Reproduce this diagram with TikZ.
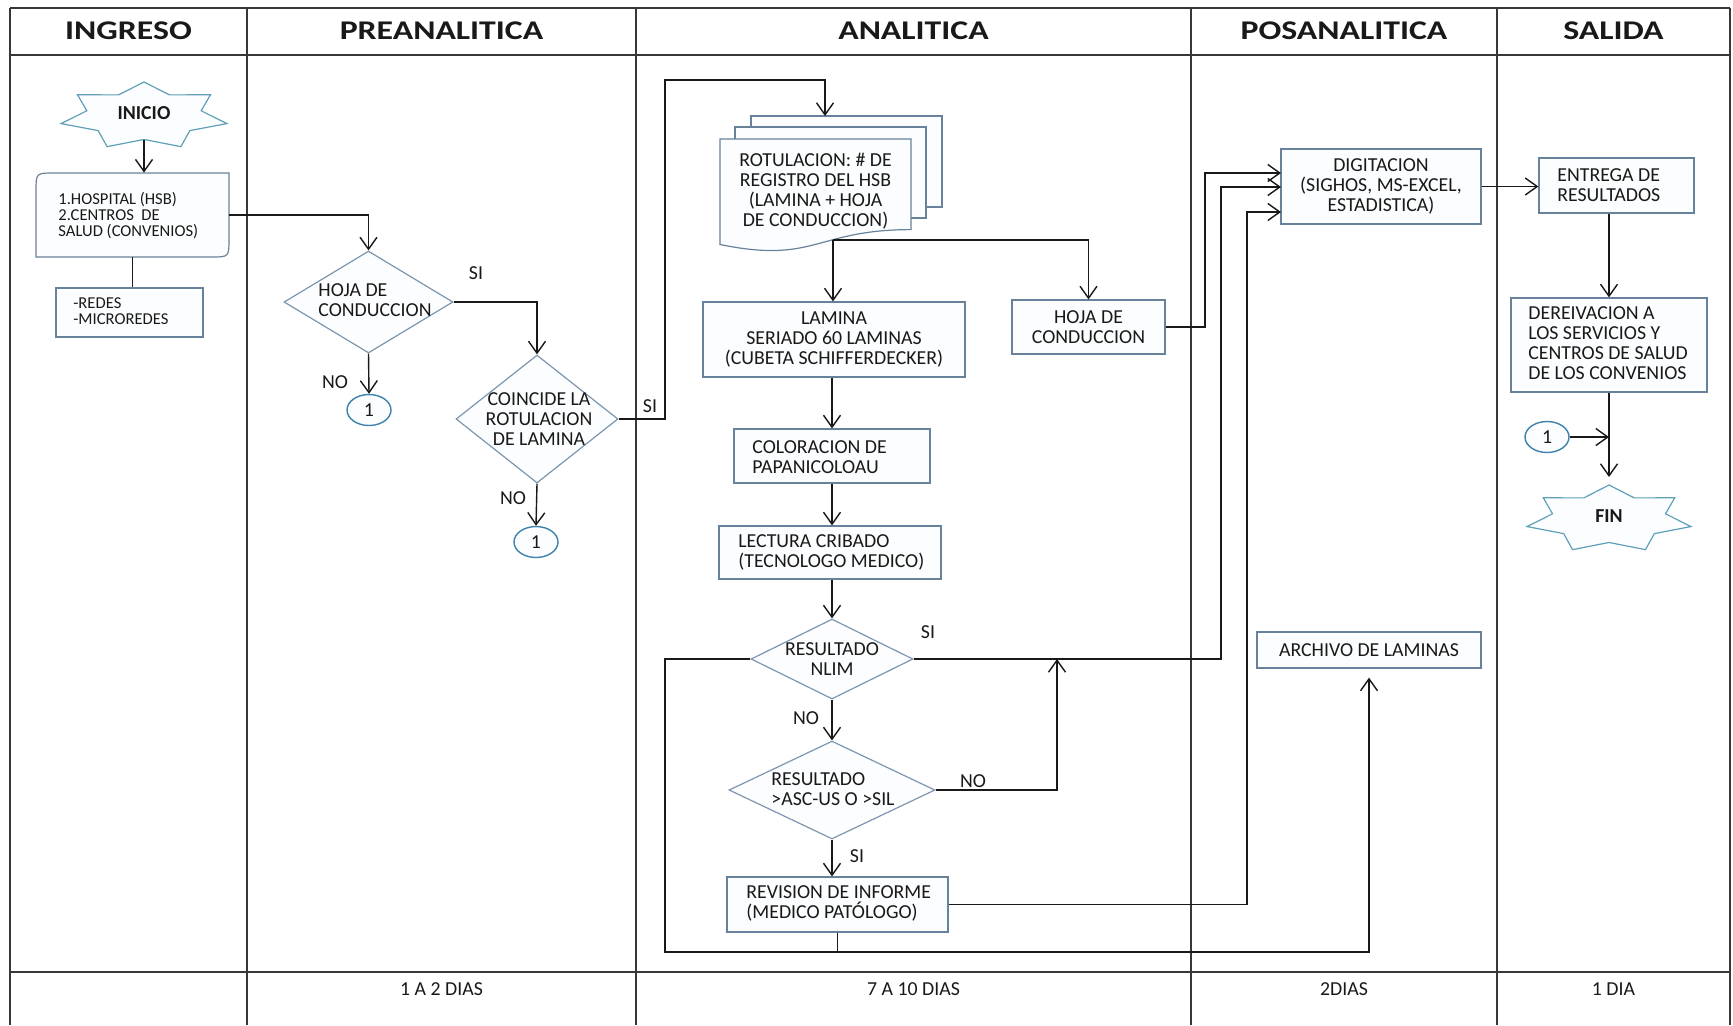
\documentclass[tikz,border=0pt]{standalone}
\usepackage{fontspec}
\setmainfont{Carlito}
\usepackage{graphicx}
\usetikzlibrary{arrows.meta,shapes.geometric,calc}

\definecolor{tabline}{RGB}{55,55,55}
\definecolor{boxline}{RGB}{105,130,155}
\definecolor{diamline}{RGB}{125,150,175}
\definecolor{starline}{RGB}{95,160,185}
\definecolor{circline}{RGB}{60,130,170}
\definecolor{inkc}{RGB}{25,25,25}
\definecolor{paper}{RGB}{252,253,254}

\newcommand\bodyfont{\fontsize{9.9}{10}\selectfont}
\newcommand\smallfont{\fontsize{8.3}{8.2}\selectfont}
\newcommand\headtext[1]{\scalebox{1.25}[1]{\bfseries\fontsize{13.5}{14}\selectfont #1}}

% seven-pointed star on an ellipse: centre (#1,#2), radii #3 and #4
\newcommand\drawsevenstar[4]{%
  \draw[starshape] ({#1+0.69*#3*cos(90-360/14)},{#2-0.69*#4*sin(90-360/14)})
    \foreach \k in {0,...,6}{
      -- ({#1+#3*cos(90+\k*360/7)},{#2-#4*sin(90+\k*360/7)})
      -- ({#1+0.69*#3*cos(90+\k*360/7+360/14)},{#2-0.69*#4*sin(90+\k*360/7+360/14)})
    } -- cycle;}

\tikzset{
  txt/.style={inner sep=0pt, text=inkc, font=\bodyfont},
  procbox/.style={draw=boxline, line width=0.6pt, fill=paper, inner sep=0pt, text=inkc, font=\bodyfont, align=center},
  decision/.style={shape=diamond, draw=diamline, line width=0.6pt, fill=paper, inner sep=0pt},
  onpage/.style={shape=ellipse, draw=circline, line width=0.7pt, fill=paper, inner sep=0pt,
                 minimum width=22pt, minimum height=15.5pt, text=inkc, font=\bodyfont},
  starshape/.style={draw=starline, line width=0.6pt, fill=paper, line join=miter},
  flow/.style={draw=inkc, line width=0.7pt},
  arr/.style={flow, -{Straight Barb[length=6pt,width=8.5pt]}},
  lane/.style={draw=tabline, line width=0.9pt},
  headlbl/.style={inner sep=0pt, text=inkc},
}

\begin{document}
\frenchspacing
\begin{tikzpicture}[x=0.5pt, y=-0.5pt]
\useasboundingbox (0,0) rectangle (1733,1025);
\fill[white] (0,0) rectangle (1733,1025);

% ---- swimlane table ----
\draw[lane] (10,8) -- (1730,8);
\draw[lane] (10,55) -- (1730,55);
\draw[lane] (10,972) -- (1730,972);
\foreach \cx in {10,247,636,1191,1497,1730}{
  \draw[lane] (\cx,8) -- (\cx,1025);
}
\node[headlbl] (hIng)  at (128.5,31) {\headtext{INGRESO}};
\node[headlbl] (hPre)  at (441.5,31) {\headtext{PREANALITICA}};
\node[headlbl] (hAna)  at (913.5,31) {\headtext{ANALITICA}};
\node[headlbl] (hPos)  at (1344,31) {\headtext{POSANALITICA}};
\node[headlbl] (hSal)  at (1613.5,31) {\headtext{SALIDA}};

\node[txt] (tPre) at (441.5,989) {1 A 2 DIAS};
\node[txt] (tAna) at (913.5,989) {7 A 10 DIAS};
\node[txt] (tPos) at (1344,989) {2DIAS};
\node[txt] (tSal) at (1613.5,989) {1 DIA};

% ---- INGRESO ----
\drawsevenstar{144}{116}{85}{34}
\node[txt, font=\bodyfont\bfseries] (inicio) at (144,113) {INICIO};
\coordinate (inicioB) at (144,139.5);

\draw[draw=boxline, line width=0.6pt, fill=paper]
  (36,257) -- (36,191) .. controls (36,173) .. (54,173) -- (229,173)
  -- (229,239) .. controls (229,257) .. (211,257) -- cycle;
\node[inner sep=0pt, minimum width=96.5pt, minimum height=42pt] (hosp) at (132.5,215) {};
\node[txt, font=\smallfont, anchor=west, align=left] (hospT) at (58,215.5)
  {1.HOSPITAL (HSB)\\2.CENTROS\ \ DE\\SALUD (CONVENIOS)};

\node[procbox, minimum width=73.5pt, minimum height=24.5pt] (redes) at (129.5,312.5) {};
\node[txt, font=\smallfont, anchor=west, align=left] (redesT) at (73,311) {-REDES\\-MICROREDES};

% ---- PREANALITICA ----
\node[decision, minimum width=84.5pt, minimum height=51pt] (hojaD) at (368.5,302) {};
\node[txt, align=left] (hojaDT) at (375,300) {HOJA DE\\CONDUCCION};
\node[onpage] (c1a) at (369,410) {1};

\node[decision, minimum width=81pt, minimum height=64pt] (coinc) at (537,419) {};
\node[txt, align=center] (coincT) at (539,419) {COINCIDE LA\\ROTULACION\\DE LAMINA};
\node[onpage] (c1b) at (536,542) {1};

% ---- ANALITICA ----
% stacked documents
\draw[draw=boxline, line width=0.6pt, fill=paper] (751,116) rectangle (942,207);
\draw[draw=boxline, line width=0.6pt, fill=paper] (735,127) rectangle (926,218);
\draw[draw=boxline, line width=0.6pt, fill=paper]
  (720,139) -- (911,139) -- (911,229.6)
  .. controls (815.5,229.6) and (815.5,264.1) .. (720,244.5) -- cycle;
\node[txt, align=center] (doc) at (815.5,191)
  {ROTULACION: \# DE\\REGISTRO DEL HSB\\(LAMINA + HOJA\\DE CONDUCCION)};
\coordinate (docIn) at (825,116);
\coordinate (docOut) at (833,240);

\node[procbox, minimum width=131pt, minimum height=37.5pt] (lam) at (834,339.5)
  {LAMINA\\SERIADO 60 LAMINAS\\(CUBETA SCHIFFERDECKER)};
\node[procbox, minimum width=76.5pt, minimum height=27pt] (hojaB) at (1088.5,327)
  {HOJA DE\\CONDUCCION};

\node[procbox, minimum width=98pt, minimum height=27pt] (col) at (832,456) {};
\node[txt, anchor=west, align=left] (colT) at (752,457) {COLORACION DE\\PAPANICOLOAU};

\node[procbox, minimum width=111pt, minimum height=26.5pt] (lect) at (830,552.5) {};
\node[txt, anchor=west, align=left] (lectT) at (738,552.5) {LECTURA CRIBADO\\(TECNOLOGO MEDICO)};

\node[decision, minimum width=81pt, minimum height=40pt] (nlim) at (832,659) {};
\node[txt, align=center] (nlimT) at (832,659) {RESULTADO\\NLIM};
\coordinate (nlimLine) at (1057,659);

\node[decision, minimum width=103pt, minimum height=49pt] (asc) at (832,790) {};
\node[txt, align=left] (ascT) at (833,789) {RESULTADO\\>ASC-US O >SIL};

\node[procbox, minimum width=110.5pt, minimum height=27.5pt] (rev) at (837.5,904.5) {};
\node[txt, anchor=west, align=left] (revT) at (746,903) {REVISION DE INFORME\\(MEDICO PATÓLOGO)};
\coordinate (loopJ) at (837.5,952);

% ---- POSANALITICA ----
\node[procbox, minimum width=100pt, minimum height=37.5pt] (dig) at (1381,186.5)
  {DIGITACION\\(SIGHOS, MS-EXCEL,\\ESTADISTICA)};
\coordinate (digIn1) at (1281,173);
\coordinate (digIn2) at (1281,187);
\coordinate (digIn3) at (1281,212);

\node[procbox, minimum width=112pt, minimum height=18pt] (arch) at (1369,650) {ARCHIVO DE LAMINAS};

% ---- SALIDA ----
\node[procbox, minimum width=77.5pt, minimum height=27.5pt] (ent) at (1616.5,185.5) {};
\node[txt, anchor=west, align=left] (entT) at (1557,185) {ENTREGA DE\\RESULTADOS};

\node[procbox, minimum width=98pt, minimum height=47pt] (der) at (1609,345) {};
\node[txt, anchor=west, align=left] (derT) at (1528,343.5)
  {DEREIVACION A\\LOS SERVICIOS Y\\CENTROS DE SALUD\\DE LOS CONVENIOS};

\node[onpage] (c1c) at (1547,437) {1};

\drawsevenstar{1609}{519}{84}{34}
\node[txt, font=\bodyfont\bfseries] (fin) at (1609,516) {FIN};
\coordinate (finTop) at (1609,485);

% ---- connectors ----
\draw[arr] (inicioB) -- (inicioB |- hosp.north);
\draw[flow] (hosp.south) -- (hosp.south |- redes.north);
\draw[arr] (hosp.east) -| (hojaD.north);
\draw[arr] (hojaD.east) -| (coinc.north);
\draw[arr] (hojaD.south) -- (c1a.north);
\draw[arr] (coinc.south) -- (c1b.north);
\draw[arr] (coinc.east) -| (665,80) -| (docIn);

\draw[arr] (docOut) -- (docOut |- lam.north);
\draw[arr] (docOut) -| (hojaB.north);
\draw[arr] (col.north |- lam.south) -- (col.north);
\draw[arr] (col.south) -- (col.south |- lect.north);
\draw[arr] (nlim.north |- lect.south) -- (nlim.north);
\draw[arr] (nlim.south) -- (asc.north);
\draw[arr] (asc.south) -- (asc.south |- rev.north);
\draw[arr] (asc.east) -| (nlimLine);

\draw[arr] (hojaB.east) -| ($(digIn1)+(-76,0)$) -- (digIn1);
\draw[arr] (nlim.east) -| ($(digIn2)+(-60,0)$) -- (digIn2);
\draw[arr] (rev.east) -| ($(digIn3)+(-34,0)$) -- (digIn3);

\draw[arr, shorten >=4.5pt] (nlim.west) -| (665,952) -| (arch.south);
\draw[flow] (rev.south) -- (loopJ);

\draw[arr] (dig.east) -- (dig.east -| ent.west);
\draw[arr] (der.north |- ent.south) -- (der.north);
\draw[arr, shorten >=4pt] (der.south) -- (finTop);
\draw[arr] (c1c.east) -- (c1c.east -| der.south);

% ---- branch labels ----
\node[txt] (lSI1) at (476,273) {SI};
\node[txt] (lNO1) at (335,382) {NO};
\node[txt] (lNO2) at (513,498) {NO};
\node[txt] (lSI2) at (650,406) {SI};
\node[txt] (lSI3) at (928,632) {SI};
\node[txt] (lNO3) at (806,718) {NO};
\node[txt] (lNO4) at (973,781) {NO};
\node[txt] (lSI4) at (857,856) {SI};
\end{tikzpicture}
\end{document}
